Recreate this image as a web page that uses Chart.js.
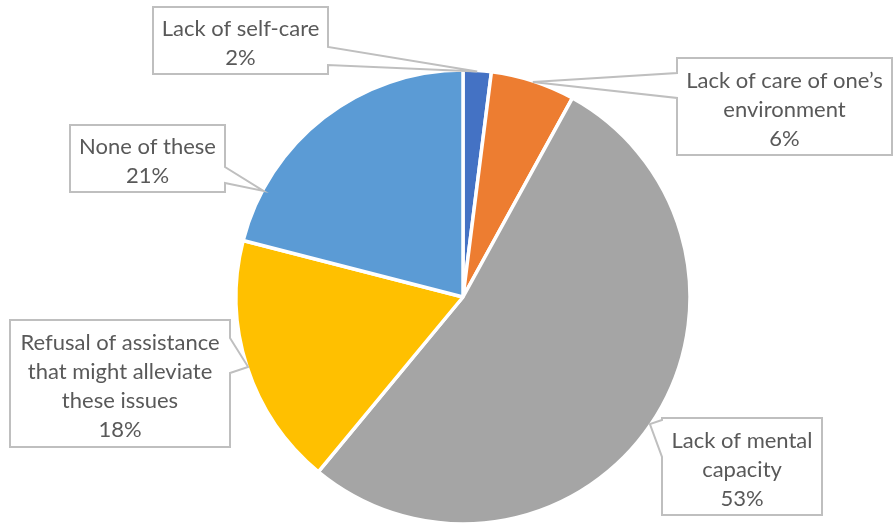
<!DOCTYPE html>
<html lang="en">
<head>
    <title>Reasons</title>
    <script src="https://cdn.jsdelivr.net/npm/chart.js@4"></script>
    <style>
        html, body { margin: 0; padding: 0; background: #fff; }
        #wrap { width: 893px; height: 523px; }
    </style>
</head>
<body>
<div id="wrap">
    <canvas id="reasonChart" width="893" height="523"></canvas>
</div>
<script>
  // slice names (already broken into lines) and their shares in percent
  const categories = [
    ["Lack of self-care"],
    ["Lack of care of one\u2019s", "environment"],
    ["Lack of mental", "capacity"],
    ["Refusal of assistance", "that might alleviate", "these issues"],
    ["None of these"]
  ];
  const shares = [2, 6, 53, 18, 21];
  const sliceColors = ["#4472C4", "#ED7D31", "#A5A5A5", "#FFC000", "#5B9BD5"];

  // callout boxes: rect, which side the pointer leaves from, the span of that side,
  // and where along the slice's rim the pointer lands (0 = start, 1 = end)
  const callouts = [
    { box: [153, 7, 175, 67],   side: "right", span: [47, 65],   at: 0.5 },
    { box: [677, 58, 215, 97],  side: "left",  span: [73, 98],   at: 0.5 },
    { box: [662, 418, 160, 97], side: "left",  span: [420, 457], at: 0.5 },
    { box: [10, 320, 220, 127], side: "right", span: [338, 373], at: 0.5 },
    { box: [70, 125, 155, 67],  side: "right", span: [167, 183], at: 0.18 }
  ];

  const calloutPlugin = {
    id: "callouts",
    afterDatasetsDraw(chart) {
      const ctx = chart.ctx;
      const meta = chart.getDatasetMeta(0);
      const values = chart.data.datasets[0].data;
      ctx.save();
      meta.data.forEach((arc, i) => {
        const c = callouts[i];
        const p = arc.getProps(["x", "y", "startAngle", "endAngle", "outerRadius"], true);
        const a = p.startAngle + c.at * (p.endAngle - p.startAngle);
        const tx = p.x + Math.cos(a) * (p.outerRadius - 1);
        const ty = p.y + Math.sin(a) * (p.outerRadius - 1);
        const [bx, by, bw, bh] = c.box;

        ctx.beginPath();
        ctx.moveTo(bx, by);
        ctx.lineTo(bx + bw, by);
        if (c.side === "right") {
          ctx.lineTo(bx + bw, c.span[0]);
          ctx.lineTo(tx, ty);
          ctx.lineTo(bx + bw, c.span[1]);
        }
        ctx.lineTo(bx + bw, by + bh);
        ctx.lineTo(bx, by + bh);
        if (c.side === "left") {
          ctx.lineTo(bx, c.span[1]);
          ctx.lineTo(tx, ty);
          ctx.lineTo(bx, c.span[0]);
        }
        ctx.closePath();
        ctx.fillStyle = "#ffffff";
        ctx.fill();
        ctx.lineWidth = 2;
        ctx.strokeStyle = "#BFBFBF";
        ctx.lineJoin = "miter";
        ctx.stroke();

        const lines = chart.data.labels[i].concat([values[i] + "%"]);
        const lh = 29;
        ctx.fillStyle = "#595959";
        ctx.font = "22px Lato";
        ctx.textAlign = "center";
        ctx.textBaseline = "middle";
        const top = by + bh / 2 - (lines.length * lh) / 2 + lh / 2 + 3;
        lines.forEach((t, k) => ctx.fillText(t, bx + bw / 2, top + k * lh));
      });
      ctx.restore();
    }
  };

  const ctx = document.getElementById("reasonChart").getContext("2d");
  const reasonChart = new Chart(ctx, {
    type: "pie",
    data: {
      labels: categories,
      datasets: [{
        data: shares,
        backgroundColor: sliceColors,
        borderColor: "#ffffff",
        borderWidth: 3.5
      }]
    },
    options: {
      responsive: false,
      animation: false,
      radius: 227,
      layout: {
        padding: { left: 234, right: 201, top: 71, bottom: 0 }
      },
      plugins: {
        legend: { display: false },
        tooltip: { enabled: false }
      }
    },
    plugins: [calloutPlugin]
  });
</script>
</body>
</html>
